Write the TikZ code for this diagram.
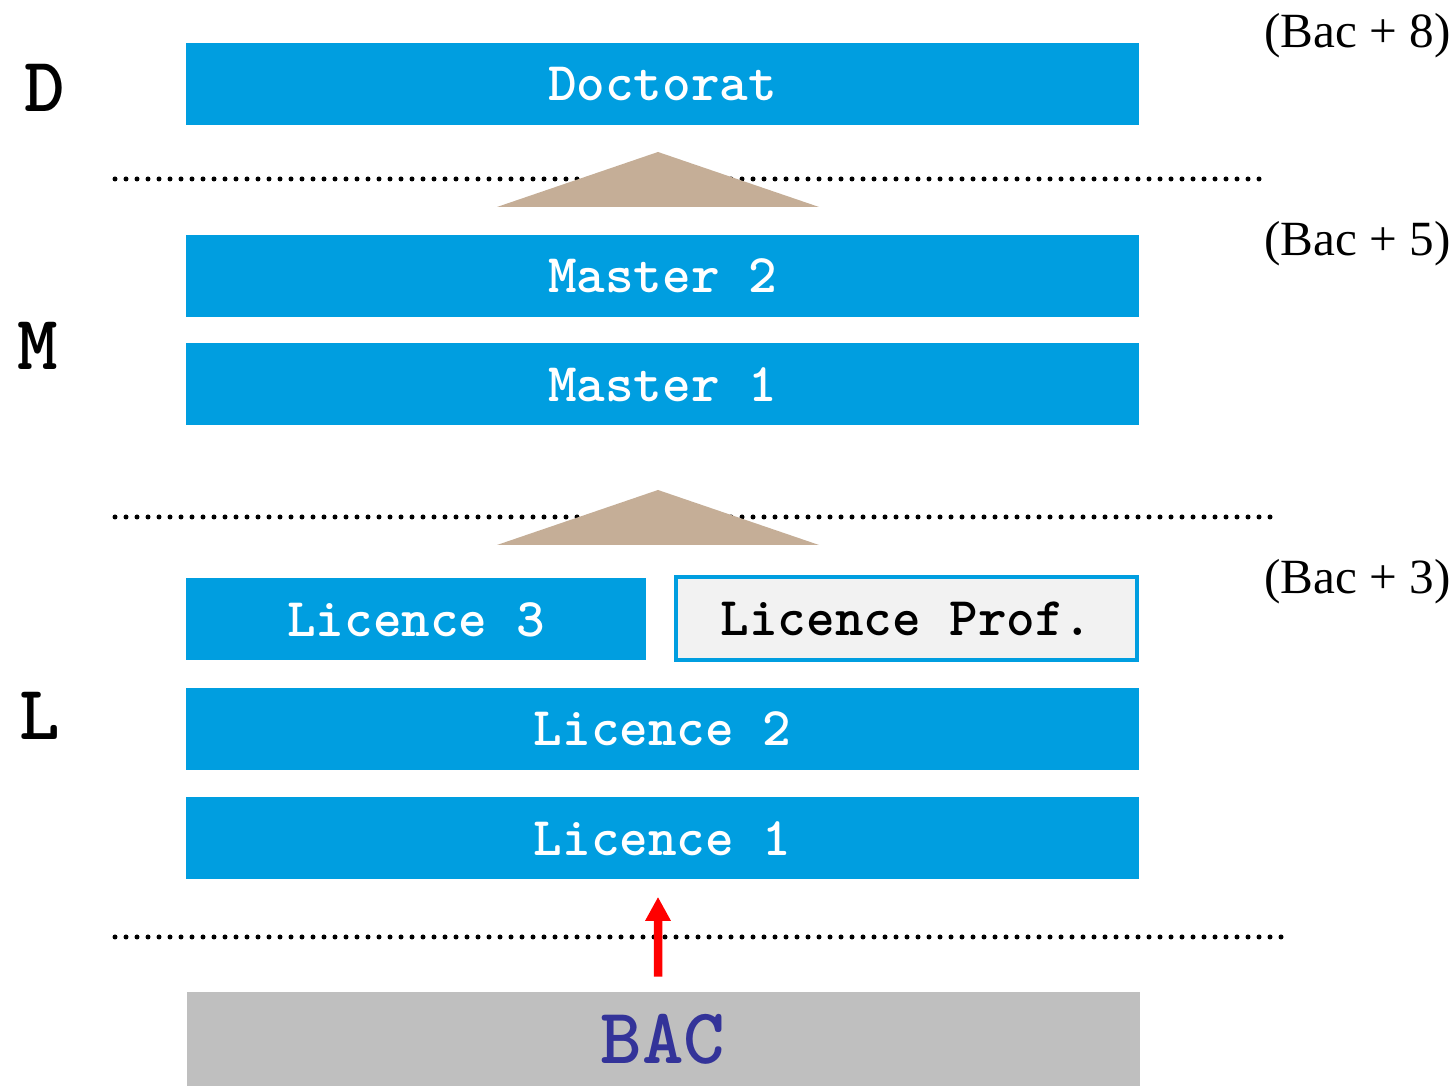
\documentclass[tikz,border=0pt]{standalone}
\usepackage{fontspec}
\setmainfont{Liberation Serif}
\usetikzlibrary{arrows.meta}

\definecolor{lmdblau}{RGB}{0,158,224}
\definecolor{sand}{RGB}{197,174,151}
\definecolor{bacgrau}{RGB}{191,191,191}
\definecolor{bacblau}{RGB}{51,51,153}
\definecolor{profgrau}{RGB}{242,242,242}

\tikzset{
  stufe/.style={fill=lmdblau, text=white, inner sep=0pt,
    minimum width=19.06cm, minimum height=1.64cm,
    font=\ttfamily\bfseries\fontsize{31}{33}\selectfont},
  punkte/.style={line width=0.1cm, line cap=round, dash pattern=on 0pt off 0.22cm},
  niveau/.style={font=\ttfamily\bfseries\fontsize{44}{46}\selectfont},
  bacplus/.style={anchor=east, font=\fontsize{28}{30}\selectfont},
}

\begin{document}
\begin{tikzpicture}
                % Rahmen
                \useasboundingbox (0,0) rectangle (29.12,21.72);

                % punktierte Linien
                \draw[punkte] (2.30,18.14) -- (25.36,18.14);
                \draw[punkte] (2.30,11.38) -- (25.52,11.38);
                \draw[punkte] (2.30,2.98) -- (25.76,2.98);

                % Stufen
                \node[stufe] (doc) at (13.25,20.04) {Doctorat};
                \node[stufe] (mas2) at (13.25,16.20) {Master 2};
                \node[stufe] (mas1) at (13.25,14.03) {Master 1};
                \node[stufe, minimum width=9.2cm] (lic3) at (8.32,9.33) {Licence 3};
                \node[stufe, fill=profgrau, text=black, draw=lmdblau, line width=0.08cm,
                      minimum width=9.22cm, minimum height=1.66cm] (licpro) at (18.13,9.35) {Licence Prof.};
                \node[stufe] (lic2) at (13.25,7.14) {Licence 2};
                \node[stufe] (lic1) at (13.25,4.95) {Licence 1};
                \node[stufe, fill=bacgrau, text=bacblau, minimum height=1.88cm,
                      font=\ttfamily\bfseries\fontsize{45}{47}\selectfont] (bac) at (13.26,0.94) {BAC};

                % Dreiecke
                \fill[sand] (9.94,17.58) -- (13.16,18.68) -- (16.38,17.58) -- cycle;
                \fill[sand] (9.94,10.82) -- (13.16,11.92) -- (16.38,10.82) -- cycle;

                % Pfeil
                \draw[red, line width=0.17cm, -{Triangle[length=0.48cm, width=0.48cm]},
                      shorten <=0.30cm, shorten >=0.34cm]
                      ([xshift=-0.1cm]bac.north) -- ([xshift=-0.09cm]lic1.south);

                % Niveaus
                \node[niveau] (d) at (0.90,19.96) {D};
                \node[niveau] (m) at (0.76,14.80) {M};
                \node[niveau] (l) at (0.80,7.40) {L};

                % Bac + n
                \node[bacplus] (b8) at (29.14,21.00) {(Bac + 8)};
                \node[bacplus] (b5) at (29.14,16.84) {(Bac + 5)};
                \node[bacplus] (b3) at (29.14,10.08) {(Bac + 3)};
            \end{tikzpicture}
\end{document}
